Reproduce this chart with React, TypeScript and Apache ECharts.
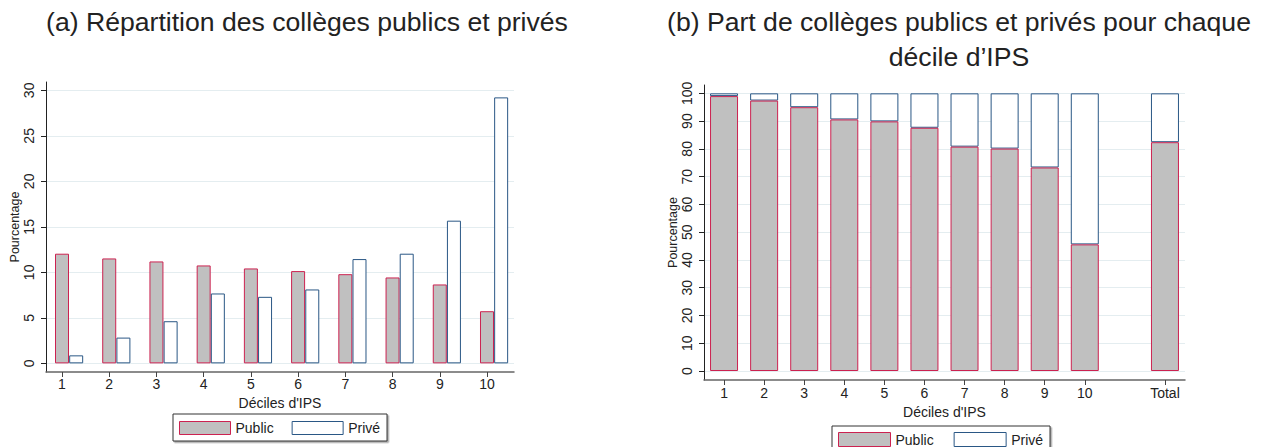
import React, { useEffect, useRef } from 'react';
import * as echarts from 'echarts';

// ---- data ----
const deciles = ['1', '2', '3', '4', '5', '6', '7', '8', '9', '10'];
const totalLabel = 'Total';
const seriesNames = ['Public', 'Privé'];
// (a) distribution of schools across IPS deciles (%)
const publicDistribution = [12.05, 11.53, 11.2, 10.76, 10.43, 10.14, 9.8, 9.44, 8.67, 5.73];
const privateDistribution = [0.88, 2.83, 4.63, 7.68, 7.31, 8.12, 11.46, 12.05, 15.68, 29.23];
// (b) share of public / private schools per decile, plus total (%)
const publicShare = [99.0, 97.4, 95.0, 90.6, 89.9, 87.6, 80.8, 80.1, 73.3, 45.6, 82.4];
const privateShare = [1.0, 2.6, 5.0, 9.4, 10.1, 12.4, 19.2, 19.9, 26.7, 54.4, 17.6];
// tick labels
const distributionTicks = [0, 5, 10, 15, 20, 25, 30];
const shareTicks = [0, 10, 20, 30, 40, 50, 60, 70, 80, 90, 100];

const titleA = '(a) Répartition des collèges publics et privés';
const titleB1 = '(b) Part de collèges publics et privés pour chaque';
const titleB2 = 'décile d’IPS';
const xName = "Déciles d'IPS";
const yName = 'Pourcentage';

const FONT = 'Arial, "Liberation Sans", Helvetica, sans-serif';
const RED = '#cc2250';
const GRAY = '#c0c0c0';
const BLUE = '#2a5785';
const GRIDC = '#e4edf0';
const TXT = '#222';

export default function App() {
  const ref = useRef<HTMLDivElement>(null);

  useEffect(() => {
    if (!ref.current) return;
    const chart = echarts.init(ref.current, undefined, { renderer: 'svg' });

    const decilePos = deciles.map((_, i) => i + 1);
    const privateOffset = 0.3;
    // right panel categories: deciles, a blank slot, then Total
    const shareCats = [...deciles, '', totalLabel];
    const shareLabels = [...deciles, totalLabel];

    const yAxis = (grid: number, ticks: number[], min: number, max: number, gap: number) => ({
      type: 'value',
      gridIndex: grid,
      min,
      max,
      axisLine: { show: true, onZero: false, lineStyle: { color: '#222', width: 1 } },
      axisTick: { show: true, length: 5, customValues: ticks, lineStyle: { color: '#222' } },
      axisLabel: { customValues: ticks, rotate: 90, margin: 10, fontSize: 14, color: TXT, fontFamily: FONT },
      splitLine: { show: true, lineStyle: { color: GRIDC, width: 1 } },
      name: yName,
      nameLocation: 'middle',
      nameRotate: 90,
      nameGap: gap,
      nameTextStyle: { fontSize: 12.5, color: TXT, fontFamily: FONT },
    });

    const axisLineX = { show: true, onZero: false, lineStyle: { color: '#666', width: 1.5 } };
    const axisNameX = (gap: number) => ({
      name: xName,
      nameLocation: 'middle',
      nameGap: gap,
      nameTextStyle: { fontSize: 14, color: TXT, fontFamily: FONT },
    });

    const pubStyle = { color: GRAY, borderColor: RED, borderWidth: 1 };
    const privStyle = { color: '#ffffff', borderColor: BLUE, borderWidth: 1 };

    const legend = (left: number, top: number, w: number, h: number, gap: number, padding: number[]) => ({
      left,
      top,
      orient: 'horizontal',
      selectedMode: false,
      icon: 'rect',
      itemWidth: w,
      itemHeight: h,
      itemGap: gap,
      padding,
      borderColor: '#333',
      borderWidth: 1,
      shadowColor: 'rgba(0,0,0,0.35)',
      shadowOffsetX: 1.5,
      shadowOffsetY: 1.5,
      shadowBlur: 1,
      backgroundColor: '#fff',
      itemStyle: { borderWidth: 1 },
      textStyle: { fontSize: 14, color: TXT, fontFamily: FONT },
      data: seriesNames,
    });

    const titleText = (text: string, x: number, y: number) => ({
      type: 'text',
      x,
      y,
      style: { text, fontSize: 26.6, fontFamily: FONT, fill: TXT, align: 'center', verticalAlign: 'middle' },
    });

    chart.setOption({
      animation: false,
      backgroundColor: '#ffffff',
      textStyle: { fontFamily: FONT },
      graphic: [titleText(titleA, 307, 22), titleText(titleB1, 959, 22), titleText(titleB2, 959, 57)],
      grid: [
        { left: 46, top: 82, width: 468, height: 290, containLabel: false },
        { left: 704, top: 85, width: 481, height: 295, containLabel: false },
      ],
      xAxis: [
        {
          type: 'value',
          gridIndex: 0,
          min: 0.661,
          max: 10.572,
          axisLine: axisLineX,
          axisTick: { show: true, length: 5, customValues: decilePos, lineStyle: { color: '#444' } },
          axisLabel: {
            customValues: decilePos,
            margin: 5,
            fontSize: 14,
            color: TXT,
            fontFamily: FONT,
            formatter: (v: number) => deciles[Math.round(v) - 1] ?? '',
          },
          splitLine: { show: false },
          ...axisNameX(11),
        },
        {
          type: 'category',
          gridIndex: 1,
          data: shareCats,
          boundaryGap: true,
          axisLine: axisLineX,
          axisTick: {
            show: true,
            length: 5,
            alignWithLabel: true,
            interval: (_i: number, v: string) => v !== '',
            lineStyle: { color: '#444' },
          },
          axisLabel: { interval: 0, margin: 6, fontSize: 14, color: TXT, fontFamily: FONT },
          splitLine: { show: false },
          ...axisNameX(19),
        },
      ],
      yAxis: [yAxis(0, distributionTicks, -0.95, 30.92, 24), yAxis(1, shareTicks, -3.24, 103, 25)],
      legend: [legend(173, 414, 51, 13, 18, [7, 7, 6, 6]), legend(832, 426, 52, 14, 20, [6, 7, 8, 6])],
      series: [
        {
          name: seriesNames[0],
          type: 'bar',
          xAxisIndex: 0,
          yAxisIndex: 0,
          barWidth: 14,
          barGap: '-100%',
          itemStyle: pubStyle,
          data: decilePos.map((p, i) => [p, publicDistribution[i]]),
        },
        {
          name: seriesNames[1],
          type: 'bar',
          xAxisIndex: 0,
          yAxisIndex: 0,
          barWidth: 14,
          barGap: '-100%',
          itemStyle: privStyle,
          data: decilePos.map((p, i) => [p + privateOffset, privateDistribution[i]]),
        },
        {
          name: seriesNames[0],
          type: 'bar',
          xAxisIndex: 1,
          yAxisIndex: 1,
          stack: 'share',
          barWidth: 28,
          z: 3,
          itemStyle: pubStyle,
          data: shareLabels.map((c, i) => [c, publicShare[i]]),
        },
        {
          name: seriesNames[1],
          type: 'bar',
          xAxisIndex: 1,
          yAxisIndex: 1,
          stack: 'share',
          barWidth: 28,
          z: 2,
          itemStyle: privStyle,
          data: shareLabels.map((c, i) => [c, privateShare[i]]),
        },
      ],
    });

    return () => chart.dispose();
  }, []);

  return <div ref={ref} style={{ position: 'absolute', left: 0, top: 0, width: 1263, height: 447 }} />;
}
